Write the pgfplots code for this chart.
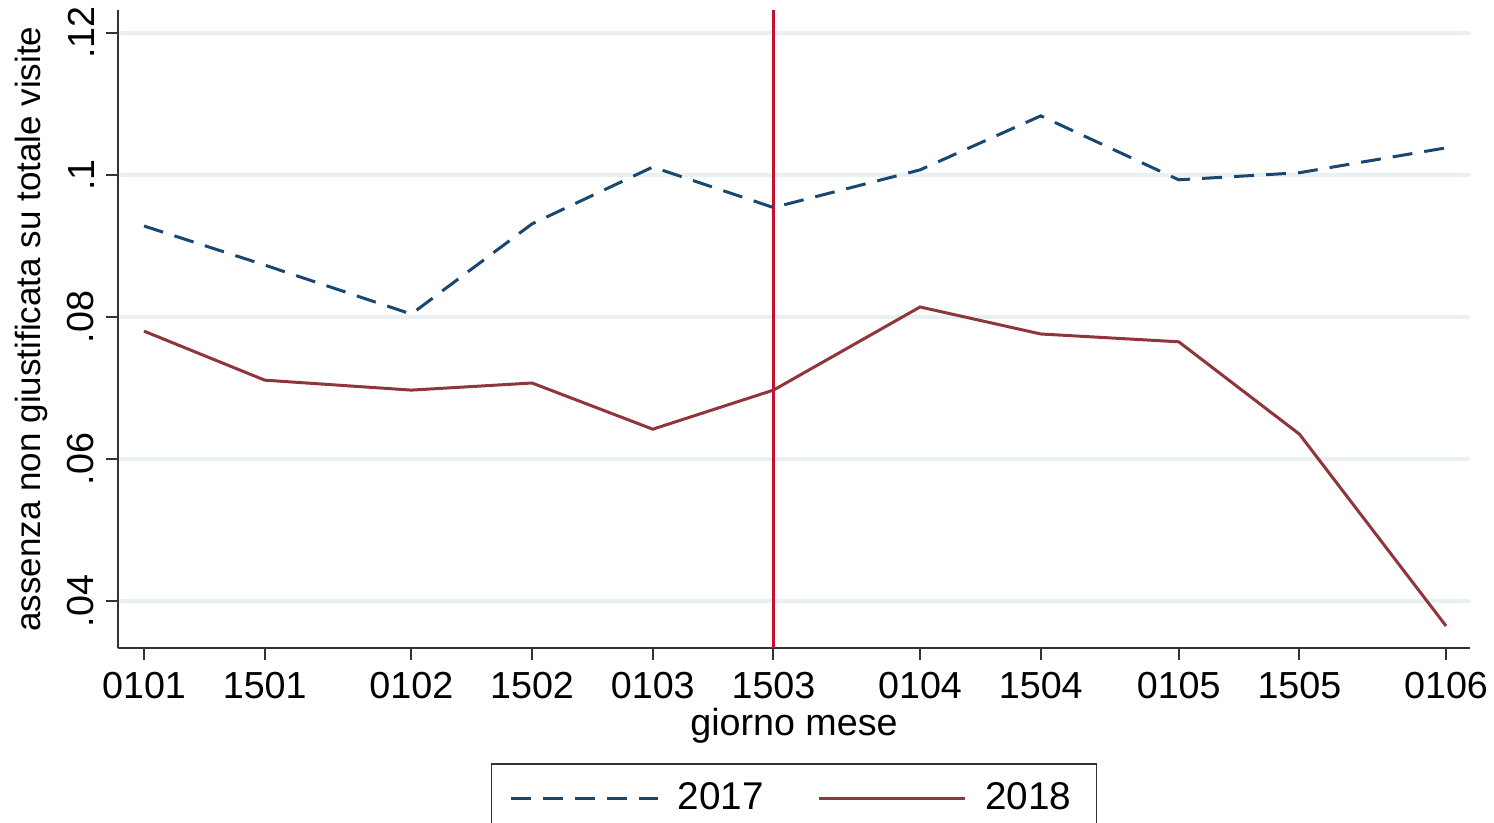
\documentclass[border=0pt]{standalone}
\usepackage{pgfplots}
\pgfplotsset{compat=1.18}
\usepackage{fontspec}
\setmainfont{Liberation Sans}

\definecolor{stnavy}{HTML}{1A476F}
\definecolor{stmaroon}{HTML}{90353B}
\definecolor{vred}{HTML}{C8102E}
\definecolor{gridc}{HTML}{E8F0F2}

% days since 1 Jan: 0101=0, 1501=14, 0102=31, ...
\begin{document}
\begin{tikzpicture}
\useasboundingbox (-35.4pt,-52.5pt) rectangle (412.8pt,194.4pt);
\begin{axis}[
    at={(0,0)}, anchor=south west,
    scale only axis,
    width=405.6pt, height=191.4pt,
    xmin=-3.02, xmax=153.78,
    ymin=0.0334, ymax=0.1232,
    axis lines*=left,
    x axis line style={-, line width=0.6pt, black!80},
    y axis line style={-, line width=0.6pt, black!80},
    tick align=outside,
    major tick length=3.6pt,
    tick style={line width=0.6pt, black!80},
    xtick={0,14,31,45,59,73,90,104,120,134,151},
    xticklabels={0101,1501,0102,1502,0103,1503,0104,1504,0105,1505,0106},
    ytick={0.04,0.06,0.08,0.1,0.12},
    yticklabels={.04,.06,.08,.1,.12},
    ymajorgrids,
    major grid style={line width=1.2pt, gridc},
    ticklabel style={font=\fontsize{11.3}{13}\selectfont},
    yticklabel style={rotate=90, anchor=south},
    xlabel={giorno mese},
    ylabel={assenza non giustificata su totale visite},
    xlabel style={font=\fontsize{11.3}{13}\selectfont, yshift=3.8pt},
    ylabel style={font=\fontsize{10.5}{13}\selectfont, yshift=-1pt},
    legend columns=2,
    legend style={at={(0.5,0)}, anchor=north, yshift=-34.5pt,
        draw=black!80, line width=0.5pt,
        font=\fontsize{11.6}{14}\selectfont,
        inner xsep=5.5pt, inner ysep=3.5pt,
        /tikz/every odd column/.append style={column sep=3.5pt},
        /tikz/every even column/.append style={column sep=14pt}},
    legend image code/.code={\draw[#1] (0pt,0pt) -- (44pt,0pt);},
]
\addplot[vred, line width=0.9pt, forget plot] coordinates {(73,0.0334) (73,0.1232)};
\addplot[stnavy, line width=0.9pt, dash pattern=on 6pt off 3.6pt] coordinates {
(0,0.0928) (14,0.0873) (31,0.0804) (45,0.0931) (59,0.1011) (73,0.0954)
(90,0.1007) (104,0.1083) (120,0.0993) (134,0.1003) (151,0.1038)};
\addlegendentry{2017}
\addplot[stmaroon, line width=0.9pt] coordinates {
(0,0.0780) (14,0.0711) (31,0.0697) (45,0.0707) (59,0.0642) (73,0.0697)
(90,0.0814) (104,0.0776) (120,0.0765) (134,0.0635) (151,0.0365)};
\addlegendentry{2018}
\end{axis}
\end{tikzpicture}
\end{document}
